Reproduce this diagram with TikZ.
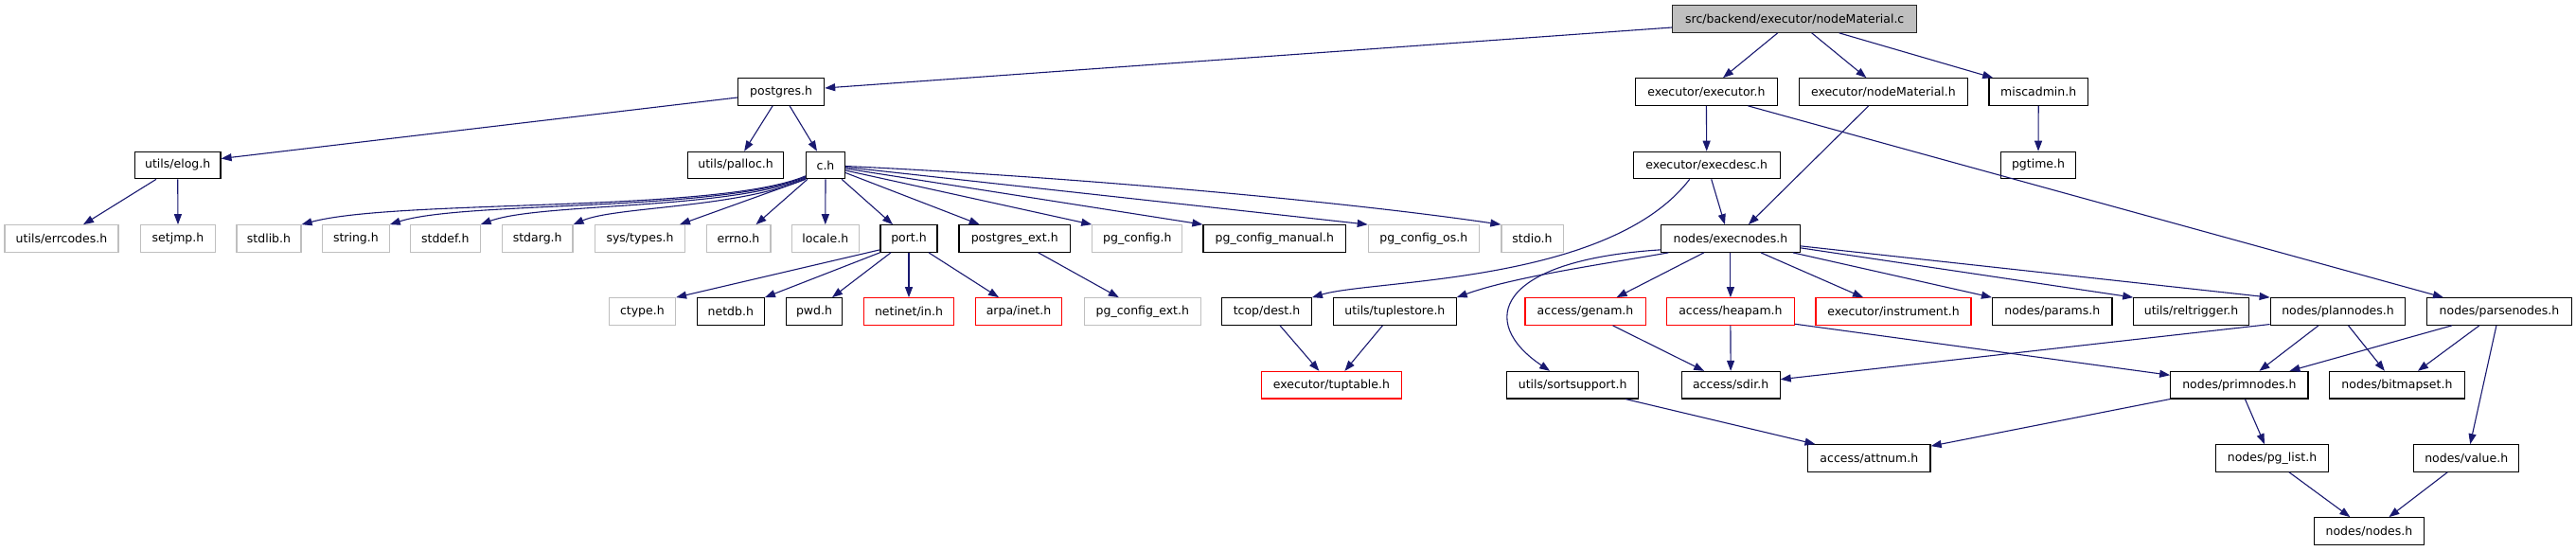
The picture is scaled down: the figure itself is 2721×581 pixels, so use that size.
\documentclass[tikz,border=0pt]{standalone}
\usepackage{fontspec}
\setmainfont{DejaVu Sans}
\usetikzlibrary{arrows.meta}
\definecolor{edgeblue}{HTML}{191970}
\definecolor{greyb}{HTML}{BFBFBF}
\definecolor{redb}{HTML}{FF0000}
\begin{document}
\begin{tikzpicture}[x=1pt,y=-1pt,
  font=\fontsize{12.5}{15}\selectfont,
  box/.style={draw=black,line width=1.2pt,rectangle,inner sep=0pt,minimum height=28.5pt,fill=white},
  doc/.style={box},
  extb/.style={box,draw=greyb},
  redbox/.style={box,draw=redb},
  rootbox/.style={box,fill=greyb,draw=black!85},
  edge/.style={draw=edgeblue,line width=1.1pt,-{Triangle[length=11pt,width=8pt]}}]
\useasboundingbox (0,0) rectangle (2721,581);
% row 0
\node[rootbox,minimum width=258pt] (root) at (1895.7,20) {src/backend/executor/nodeMaterial.c};
% row 1
\node[doc,minimum width=91pt] (postgres) at (825.1,97) {postgres.h};
\node[doc,minimum width=150pt] (executor) at (1802.4,97) {executor/executor.h};
\node[doc,minimum width=177.5pt] (nodeMaterial) at (1989.4,97) {executor/nodeMaterial.h};
\node[doc,minimum width=104.6pt] (miscadmin) at (2153.2,97) {miscadmin.h};
% row 2
\node[doc,minimum width=90.6pt] (elog) at (187.7,174.5) {utils/elog.h};
\node[doc,minimum width=101.4pt] (palloc) at (777.1,174.5) {utils/palloc.h};
\node[doc,minimum width=41pt] (c) at (872,174.5) {c.h};
\node[doc,minimum width=155pt] (execdesc) at (1802.7,174.5) {executor/execdesc.h};
\node[doc,minimum width=79.2pt] (pgtime) at (2153,174.5) {pgtime.h};
% row 3
\node[extb,minimum width=120pt] (errcodes) at (65,252) {utils/errcodes.h};
\node[extb,minimum width=78.5pt] (setjmp) at (188,252) {setjmp.h};
\node[extb,minimum width=68pt] (stdlib) at (284,252) {stdlib.h};
\node[extb,minimum width=70.6pt] (string) at (375.9,252) {string.h};
\node[extb,minimum width=73.6pt] (stddef) at (470.3,252) {stddef.h};
\node[extb,minimum width=74.5pt] (stdarg) at (567.7,252) {stdarg.h};
\node[extb,minimum width=94.7pt] (systypes) at (676,252) {sys/types.h};
\node[extb,minimum width=67.8pt] (errno) at (780,252) {errno.h};
\node[extb,minimum width=71pt] (locale) at (871.8,252) {locale.h};
\node[doc,minimum width=60pt] (port) at (960,252) {port.h};
\node[doc,minimum width=117.4pt] (pgext) at (1071.7,252) {postgres\_ext.h};
\node[extb,minimum width=95pt] (pgconfig) at (1201.3,252) {pg\_config.h};
\node[doc,minimum width=150.6pt] (pgmanual) at (1346.3,252) {pg\_config\_manual.h};
\node[extb,minimum width=117pt] (pgos) at (1503.8,252) {pg\_config\_os.h};
\node[extb,minimum width=65.2pt] (stdio) at (1618.5,252) {stdio.h};
\node[doc,minimum width=146.5pt] (execnodes) at (1827.9,252) {nodes/execnodes.h};
% row 4
\node[extb,minimum width=70.2pt] (ctype) at (678.4,329) {ctype.h};
\node[doc,minimum width=71pt] (netdb) at (771.8,329) {netdb.h};
\node[doc,minimum width=59pt] (pwd) at (860,329) {pwd.h};
\node[redbox,minimum width=95pt] (netinet) at (960,329) {netinet/in.h};
\node[redbox,minimum width=91pt] (arpainet) at (1076,329) {arpa/inet.h};
\node[extb,minimum width=123pt] (pgcfgext) at (1206.8,329) {pg\_config\_ext.h};
\node[doc,minimum width=94.7pt] (tcopdest) at (1338,329) {tcop/dest.h};
\node[doc,minimum width=129.4pt] (tuplestore) at (1473.4,329) {utils/tuplestore.h};
\node[redbox,minimum width=127.2pt] (genam) at (1674.5,329) {access/genam.h};
\node[redbox,minimum width=135pt] (heapam) at (1827.9,329) {access/heapam.h};
\node[redbox,minimum width=164pt] (instrument) at (2000,329) {executor/instrument.h};
\node[doc,minimum width=126.5pt] (params) at (2167.8,329) {nodes/params.h};
\node[doc,minimum width=121.6pt] (reltrigger) at (2314.6,329) {utils/reltrigger.h};
\node[doc,minimum width=142.6pt] (plannodes) at (2469.5,329) {nodes/plannodes.h};
\node[doc,minimum width=152.5pt] (parsenodes) at (2639.9,329) {nodes/parsenodes.h};
% row 5
\node[redbox,minimum width=147.4pt] (tuptable) at (1406.4,406.7) {executor/tuptable.h};
\node[doc,minimum width=138.8pt] (sortsupport) at (1661.1,406.7) {utils/sortsupport.h};
\node[doc,minimum width=104pt] (sdir) at (1828.1,406.7) {access/sdir.h};
\node[doc,minimum width=145.3pt] (primnodes) at (2365.4,406.7) {nodes/primnodes.h};
\node[doc,minimum width=143pt] (bitmapset) at (2531.9,406.7) {nodes/bitmapset.h};
% row 6
\node[doc,minimum width=129.5pt] (attnum) at (1974.3,484) {access/attnum.h};
\node[doc,minimum width=119pt] (pglist) at (2400,484) {nodes/pg\_list.h};
\node[doc,minimum width=110.8pt] (value) at (2605.2,484) {nodes/value.h};
% row 7
\node[doc,minimum width=116.2pt] (nodes) at (2502.4,561) {nodes/nodes.h};

% edges from root
\draw[edge] ([yshift=-9pt]root.west) -- ([yshift=4pt]postgres.east);
\draw[edge] ([xshift=-18pt]root.south) -- ([xshift=17.6pt]executor.north);
\draw[edge] ([xshift=18pt]root.south) -- ([xshift=-18pt]nodeMaterial.north);
\draw[edge] ([xshift=47pt]root.south) -- ([xshift=-48pt]miscadmin.north);
% postgres
\draw[edge] ([yshift=-6pt]postgres.west) -- ([yshift=7pt]elog.east);
\draw[edge] ([xshift=-9pt]postgres.south) -- ([xshift=9pt]palloc.north);
\draw[edge] ([xshift=9pt]postgres.south) -- ([xshift=-9pt]c.north);
% elog
\draw[edge] ([xshift=-22.7pt]elog.south) -- ([xshift=23pt]errcodes.north);
\draw[edge] (elog.south) -- (setjmp.north);
% c.h
\draw[edge] ([yshift=3.5pt]c.south west) .. controls (760,225) and (420,210) .. (stdlib.north east);
\draw[edge] ([yshift=2.5pt]c.south west) .. controls (760,224) and (490,212) .. (string.north east);
\draw[edge] ([yshift=1.5pt]c.south west) .. controls (770,222) and (570,214) .. (stddef.north east);
\draw[edge] ([yshift=0.5pt]c.south west) .. controls (780,220) and (650,218) .. (stdarg.north east);
\draw[edge] (c.south west) -- ([xshift=-6pt]systypes.north east);
\draw[edge] ([xshift=2pt]c.south west) -- ([xshift=-16pt]errno.north east);
\draw[edge] (c.south) -- (locale.north);
\draw[edge] ([xshift=-4pt]c.south east) -- ([xshift=-17pt]port.north);
\draw[edge] ([yshift=-8pt]c.east) -- ([xshift=-37pt]pgext.north);
\draw[edge] ([yshift=-5.5pt]c.east) -- (pgconfig.north west);
\draw[edge] ([yshift=-3.5pt]c.east) -- (pgmanual.north west);
\draw[edge] ([yshift=-2pt]c.east) -- (pgos.north west);
\draw[edge] ([yshift=-1pt]c.east) .. controls (1100,185) and (1400,210) .. (stdio.north west);
% port
\draw[edge] ([yshift=3pt]port.south west) -- (ctype.north east);
\draw[edge] (port.south west) -- (netdb.north east);
\draw[edge] ([xshift=-19pt]port.south) -- ([xshift=19pt]pwd.north);
\draw[edge] (port.south) -- (netinet.north);
\draw[edge] ([xshift=21pt]port.south) -- ([xshift=-21pt]arpainet.north);
\draw[edge] ([xshift=25pt]pgext.south) -- ([xshift=-25pt]pgcfgext.north);
% miscadmin, executor
\draw[edge] (miscadmin.south) -- (pgtime.north);
\draw[edge] (executor.south) -- (execdesc.north);
\draw[edge] ([xshift=44pt]executor.south) -- ([xshift=-59pt]parsenodes.north);
\draw[edge] ([xshift=-15.6pt]nodeMaterial.south) -- ([xshift=19pt]execnodes.north);
\draw[edge] ([xshift=5pt]execdesc.south) -- ([xshift=-6pt]execnodes.north);
\draw[edge] ([xshift=-18pt]execdesc.south) .. controls (1700,300) and (1450,295) .. (tcopdest.north east);
% execnodes
\draw[edge] ([xshift=8.4pt]execnodes.south west) .. controls (1700,278) and (1600,292) .. (tuplestore.north east);
\draw[edge] ([yshift=3pt]execnodes.south west) .. controls (1580,275) and (1560,340) .. ([xshift=-24pt]sortsupport.north);
\draw[edge] ([xshift=-28pt]execnodes.south) -- ([xshift=33pt]genam.north);
\draw[edge] (execnodes.south) -- (heapam.north);
\draw[edge] ([xshift=32pt]execnodes.south) -- ([xshift=-32pt]instrument.north);
\draw[edge] ([xshift=-8pt]execnodes.south east) -- (params.north west);
\draw[edge] ([yshift=5pt]execnodes.south east) -- (reltrigger.north west);
\draw[edge] ([yshift=7pt]execnodes.south east) -- (plannodes.north west);
% row 4 to below
\draw[edge] ([xshift=14pt]tcopdest.south) -- ([xshift=-13pt]tuptable.north);
\draw[edge] ([xshift=-13pt]tuplestore.south) -- ([xshift=14pt]tuptable.north);
\draw[edge] ([xshift=56pt]sortsupport.south) -- ([xshift=8.5pt]attnum.north west);
\draw[edge] ([xshift=29pt]genam.south) -- ([xshift=-28pt]sdir.north);
\draw[edge] (heapam.south) -- (sdir.north);
\draw[edge] ([yshift=1.6pt]heapam.south east) -- ([yshift=-4.4pt]primnodes.north west);
\draw[edge] ([yshift=1.3pt]plannodes.south west) -- ([yshift=6pt]sdir.east);
\draw[edge] ([xshift=-20.5pt]plannodes.south) -- ([xshift=21pt]primnodes.north);
\draw[edge] ([xshift=11pt]plannodes.south) -- ([xshift=-13pt]bitmapset.north);
\draw[edge] ([xshift=-50pt]parsenodes.south) -- ([xshift=53pt]primnodes.north);
\draw[edge] ([xshift=-21pt]parsenodes.south) -- ([xshift=22pt]bitmapset.north);
\draw[edge] ([xshift=-3pt]parsenodes.south) -- ([xshift=4pt]value.north);
\draw[edge] (primnodes.south west) -- ([yshift=-2pt]attnum.north east);
\draw[edge] ([xshift=6pt]primnodes.south) -- ([xshift=-8pt]pglist.north);
\draw[edge] ([xshift=18pt]pglist.south) -- ([xshift=-20pt]nodes.north);
\draw[edge] ([xshift=-20pt]value.south) -- ([xshift=21pt]nodes.north);
\end{tikzpicture}
\end{document}
